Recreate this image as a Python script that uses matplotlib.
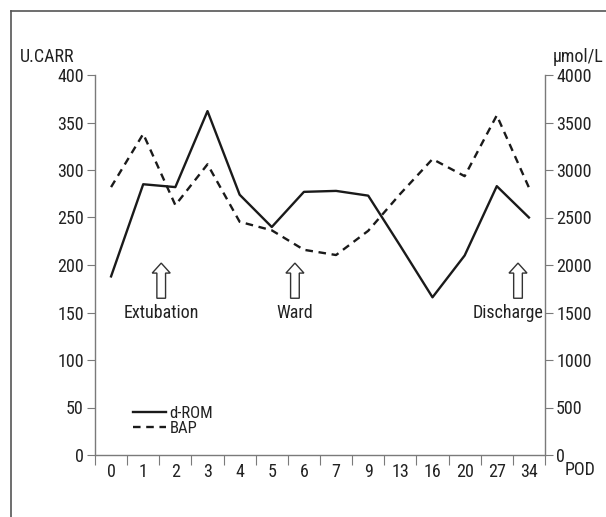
import matplotlib
matplotlib.use("Agg")
import matplotlib.pyplot as plt
from matplotlib.lines import Line2D
from matplotlib.patches import FancyArrow
from matplotlib import font_manager

fams = {f.name for f in font_manager.fontManager.ttflist}
prefs = ['Liberation Sans Narrow', 'Roboto Condensed', 'Open Sans Condensed', 'Noto Sans Condensed',
         'DejaVu Sans Condensed']
main_font = next((p for p in prefs if p in fams), None)
if main_font is None:
    main_font = 'DejaVu Sans'
    plt.rcParams['font.stretch'] = 'condensed'
plt.rcParams['font.family'] = [main_font, 'DejaVu Sans']

pod_labels = ["0", "1", "2", "3", "4", "5", "6", "7", "9", "13", "16", "20", "27", "34"]
d_rom = [188, 285, 282, 362, 274, 240, 277, 278, 273, 220, 166, 210, 283, 250]
bap = [2820, 3380, 2630, 3060, 2455, 2365, 2160, 2105, 2360, 2750, 3115, 2935, 3575, 2815]
left_ticks = [0, 50, 100, 150, 200, 250, 300, 350, 400]
right_ticks = [0, 500, 1000, 1500, 2000, 2500, 3000, 3500, 4000]
events = ["Extubation", "Ward", "Discharge"]
event_arrow_x = [1.56, 5.72, 12.66]
event_text_x = [1.56, 5.72, 12.34]

W, H = 606, 517
fig = plt.figure(figsize=(W / 100, H / 100), dpi=100)
ax = fig.add_axes([95 / W, 1 - 455 / H, 450 / W, 380 / H])
ax2 = ax.twinx()

axc = '#7a7a7a'
txtc = '#222222'
fs = 13

x = list(range(len(pod_labels)))
l1, = ax.plot(x, d_rom, color='#1a1a1a', lw=1.7, label='d-ROM')
l2, = ax2.plot(x, bap, color='#1a1a1a', lw=1.7, ls=(0, (3.2, 2.4)), label='BAP')

ax.set_xlim(-0.5, len(pod_labels) - 0.5)
ax.set_ylim(0, 400)
ax2.set_ylim(0, 4000)

ax.set_xticks([i - 0.5 for i in range(len(pod_labels) + 1)])
ax.set_xticklabels([])
ax.set_xticks(x, minor=True)
ax.set_xticklabels(pod_labels, minor=True, fontsize=fs, color=txtc)
ax.tick_params(axis='x', which='minor', length=0, pad=6)
ax.tick_params(axis='x', which='major', length=7, color=axc, direction='out')

ax.set_yticks(left_ticks)
ax.set_yticklabels([str(v) for v in left_ticks], fontsize=fs, color=txtc)
ax.tick_params(axis='y', length=6, color=axc, pad=2)
ax2.set_yticks(right_ticks)
ax2.set_yticklabels([str(v) for v in right_ticks], fontsize=fs, color=txtc)
ax2.tick_params(axis='y', length=6, color=axc, pad=2)

for a in (ax, ax2):
    a.spines['top'].set_visible(False)
    for s in ('left', 'right', 'bottom'):
        a.spines[s].set_color(axc)
        a.spines[s].set_linewidth(1.0)
ax.spines['right'].set_visible(False)
ax2.spines['left'].set_visible(False)
ax2.spines['bottom'].set_visible(False)

# event arrows
for ex, tx, name in zip(event_arrow_x, event_text_x, events):
    arr = FancyArrow(ex, 165, 0, 37, width=0.27, head_width=0.56, head_length=10.5,
                     length_includes_head=True, fc='white', ec='#333333', lw=1.0, zorder=3)
    ax.add_patch(arr)
    ax.text(tx, 150, name, ha='center', va='center', fontsize=fs, color=txtc)

# axis unit labels
fig.text(47 / W, 1 - 57 / H, 'U.CARR', ha='center', va='center', fontsize=fs, color=txtc)
fig.text(578 / W, 1 - 57 / H, 'µmol/L', ha='center', va='center', fontsize=fs, color=txtc)
fig.text(580 / W, 1 - 470 / H, 'POD', ha='center', va='center', fontsize=fs, color=txtc)

leg = fig.legend(handles=[l1, l2], loc='center left', bbox_to_anchor=(133 / W, 1 - 421 / H),
                 frameon=False, fontsize=12, handlelength=2.0, handletextpad=0.2,
                 labelspacing=0.0, borderpad=0, borderaxespad=0)
for t in leg.get_texts():
    t.set_color(txtc)

# outer frame (left and top)
fig.add_artist(Line2D([11 / W, 11 / W], [0, 1 - 11 / H], transform=fig.transFigure, color='#555555', lw=1.2))
fig.add_artist(Line2D([11 / W, 1], [1 - 11 / H, 1 - 11 / H], transform=fig.transFigure, color='#555555', lw=1.2))

fig.savefig('out.png', dpi=100)
